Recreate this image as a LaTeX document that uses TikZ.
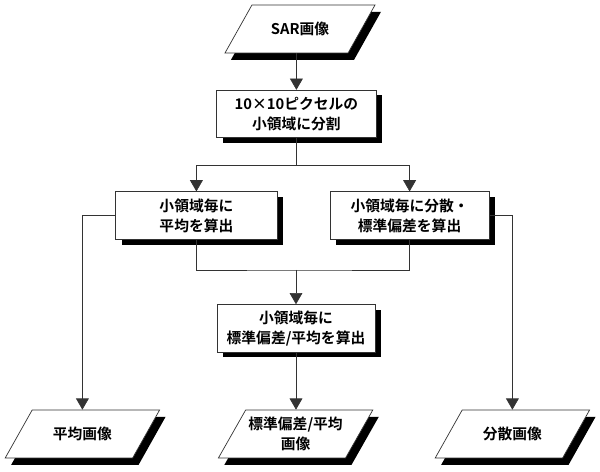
\documentclass[tikz,border=0pt]{standalone}
\usepackage{fontspec}
\setmainfont{Noto Sans CJK JP}[BoldFont={Noto Sans CJK JP Bold}]
\usetikzlibrary{arrows.meta,shapes.geometric,shadows}

\begin{document}
\begin{tikzpicture}[
    x=1cm,
    y=1cm,
    font=\fontsize{10.5pt}{14pt}\selectfont\bfseries,
    process/.style={draw=black!80, fill=white, line width=0.5pt,
                    minimum width=3.98cm, minimum height=1.19cm,
                    inner sep=0.05cm, align=center,
                    drop shadow={shadow xshift=0.15cm, shadow yshift=-0.13cm,
                                 fill=black, opacity=1}},
    dataimg/.style={trapezium, trapezium left angle=60,
                    trapezium right angle=120, trapezium stretches body,
                    draw=black!80, fill=white, line width=0.5pt,
                    minimum width=3.86cm, minimum height=1.20cm,
                    inner xsep=0.02cm, inner ysep=0.41cm, align=center,
                    drop shadow={shadow xshift=0.15cm, shadow yshift=-0.17cm,
                                 fill=black, opacity=1}},
    link/.style={draw=black!80, line width=0.45pt},
    flow/.style={link, -{Triangle[length=0.28cm, width=0.32cm]}}
]
\useasboundingbox (0,0) rectangle (15,11.8);

% Input image and block splitting
\node[dataimg, minimum width=3.75cm] (sar) at (7.50,11.075) {SAR画像};
\node[process] (split) at (7.41,8.95) {10×10ピクセルの\\小領域に分割};

% Per-block statistics
\node[process, minimum width=4.03cm] (mean) at (4.91,6.41)
      {小領域毎に\\平均を算出};
\node[process] (var) at (10.24,6.41) {小領域毎に分散・\\標準偏差を算出};
\node[process, minimum width=3.95cm] (ratio) at (7.40,3.59)
      {小領域毎に\\標準偏差/平均を算出};

% Output images (two-line label needs less vertical padding)
\node[dataimg] (meanimg) at (2.06,0.95) {平均画像};
\node[dataimg, inner ysep=0.17cm] (ratioimg) at (7.39,0.95)
      {標準偏差/平均\\画像};
\node[dataimg] (varimg) at (12.81,0.95) {分散画像};

\coordinate (fork) at (7.41,7.675);
\coordinate (merge) at (7.40,5.05);
\coordinate (meanin) at (meanimg.north -| meanimg.center);
\coordinate (varin) at (varimg.north -| varimg.center);

\draw[flow] (sar.south -| split.north) -- (split.north);
\draw[link] (split.south) -- (fork);
\draw[flow] (fork) -| (mean.north);
\draw[flow] (fork) -| (var.north);
\draw[link] (mean.south) |- (merge) -| (var.south);
\draw[flow] (merge) -- (ratio.north);
\draw[flow] (ratio.south) -- (ratio.south |- ratioimg.north);
\draw[flow] (mean.west) -| (meanin);
\draw[flow] (var.east) -| (varin);
\end{tikzpicture}
\end{document}
